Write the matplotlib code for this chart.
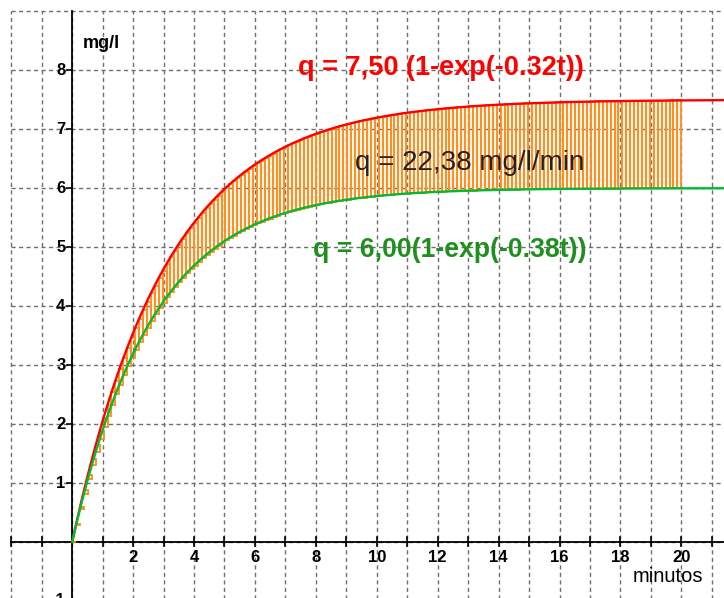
import numpy as np
import matplotlib.pyplot as plt

plt.rcParams['font.family'] = ['Liberation Sans', 'DejaVu Sans']

# curve parameters
A_RED, K_RED = 7.50, 0.32
A_GREEN, K_GREEN = 6.00, 0.38
T_START, T_END = 0, 20
N_RECT = 155

X_TICKS = [2, 4, 6, 8, 10, 12, 14, 16, 18, 20]
Y_TICKS = [1, 2, 3, 4, 5, 6, 7, 8]

LABEL_RED = "q = 7,50 (1-exp(-0.32t))"
LABEL_GREEN = "q = 6,00(1-exp(-0.38t))"
LABEL_AREA = "q = 22,38 mg/l/min"

XMIN, XMAX = -2.37, 21.4
YMIN, YMAX = -0.95, 9.19

fig = plt.figure(figsize=(7.24, 5.98), dpi=100)
ax = fig.add_axes([0, 0, 1, 1])
ax.set_xlim(XMIN, XMAX)
ax.set_ylim(YMIN, YMAX)
ax.axis('off')

# dashed grid
dash = (0, (3.0, 2.4))
for gx in range(-2, 22):
    ax.plot([gx, gx], [YMIN - 1, 9], color='#6f6f6f', lw=1, ls=dash, zorder=0)
for gy in range(-1, 10):
    ax.plot([-2, XMAX + 1], [gy, gy], color='#6f6f6f', lw=1, ls=dash, zorder=0)

# axes
ax.plot([-2, XMAX + 1], [0, 0], color='black', lw=1.3, zorder=2)
ax.plot([0, 0], [YMIN - 1, 9], color='black', lw=1.3, zorder=2)
dx = 4 / 30.3
dy = 4.5 / 59.0
for gx in range(-2, 22):
    if gx != 0:
        ax.plot([gx, gx], [-dy, dy], color='black', lw=1.2, zorder=2)
for gy in range(-1, 9):
    if gy != 0:
        ax.plot([-1.4 * dx, 0], [gy, gy], color='black', lw=1.2, zorder=2)

for v in X_TICKS:
    ax.text(v, -0.14, str(v), ha='center', va='top', fontsize=12, fontweight='bold')
for v in Y_TICKS + [-1]:
    ax.text(-0.22, v, str(v), ha='right', va='center', fontsize=12, fontweight='bold',
            clip_on=False)

# curves
t = np.linspace(0, XMAX + 1, 600)
red = A_RED * (1 - np.exp(-K_RED * t))
green = A_GREEN * (1 - np.exp(-K_GREEN * t))

# rectangles between the curves
edges = np.linspace(T_START, T_END, N_RECT + 1)[:-1]
w = (T_END - T_START) / N_RECT
r_top = A_RED * (1 - np.exp(-K_RED * edges))
g_bot = A_GREEN * (1 - np.exp(-K_GREEN * edges))
ax.bar(edges, r_top - g_bot, bottom=g_bot, width=w, align='edge',
       facecolor=(1, 0.6, 0.2, 0.07), edgecolor='#ff8f1f', lw=1.35, zorder=3)

ax.plot(t, red, color='#ff0000', lw=1.7, zorder=4)
ax.plot(t, green, color='#00bb33', lw=1.7, zorder=4)

# labels
ax.text(0.36, 8.46, "mg/l", fontsize=13, fontweight='bold', ha='left', va='center')
ax.text(18.4, -0.58, "minutos", fontsize=14.5, ha='left', va='center')
ax.text(7.4, 8.03, LABEL_RED, color='#ff0000', fontsize=19.5, fontweight='bold',
        ha='left', va='center')
ax.text(9.3, 6.42, LABEL_AREA, color='#222222', fontsize=20, ha='left', va='center',
        zorder=5)
ax.text(7.9, 4.95, LABEL_GREEN, color='#1f8f1f', fontsize=19.2, fontweight='bold',
        ha='left', va='center')

fig.savefig('out.png', dpi=100)
